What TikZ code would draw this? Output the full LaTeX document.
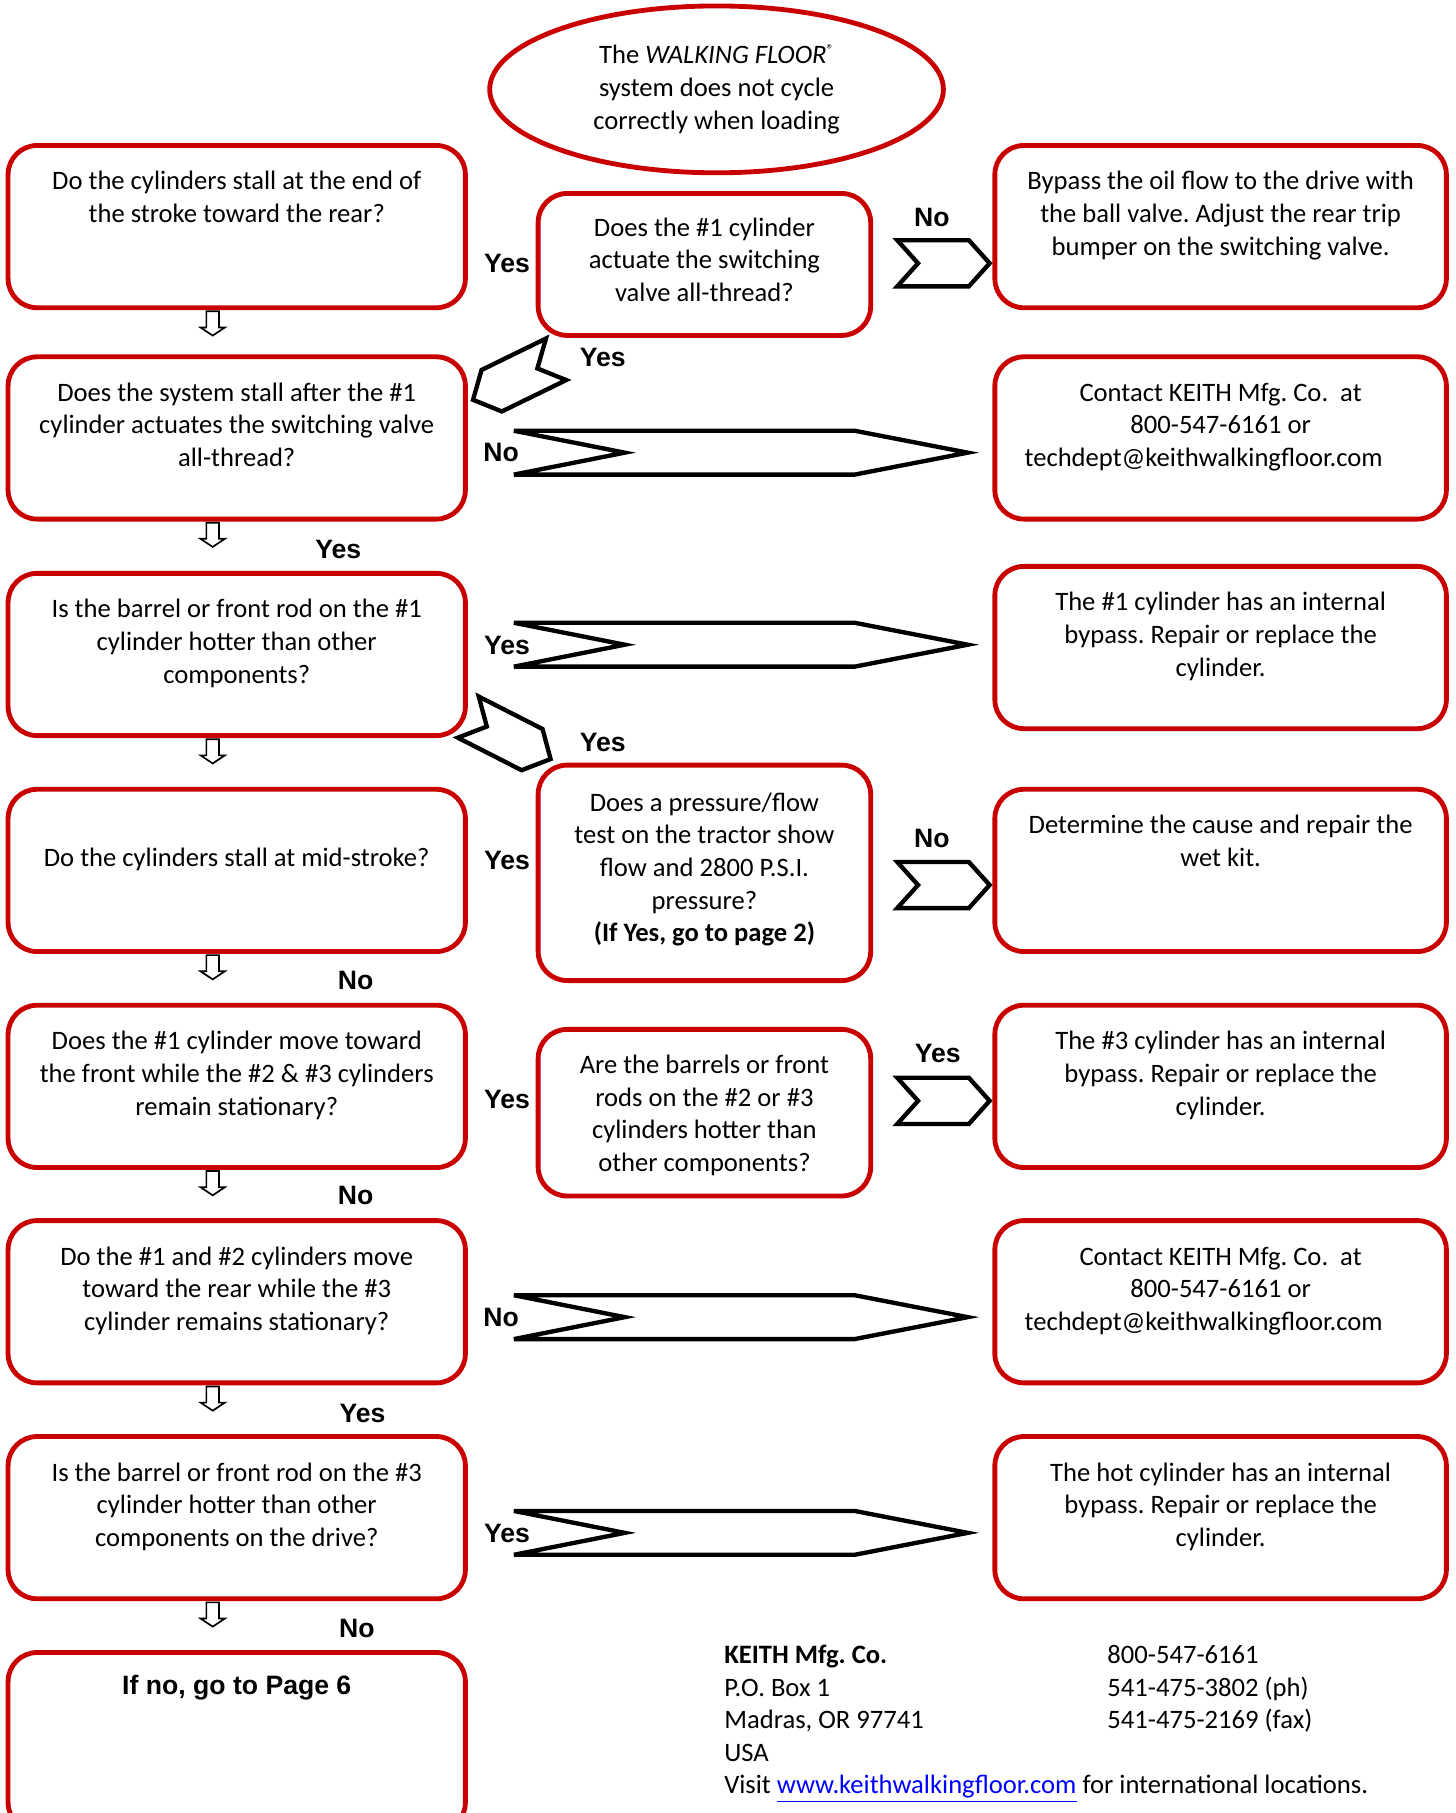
\documentclass[tikz,border=0pt]{standalone}
\usepackage{fontspec}
\setmainfont{Carlito}
\newfontfamily\labelfont{Liberation Sans}
\usetikzlibrary{shapes.geometric}
\frenchspacing

\definecolor{boxred}{RGB}{200,0,0}
\definecolor{linkblue}{RGB}{0,0,255}

\tikzset{
    flowbox/.style = {draw = boxred, line width = 2pt, rounded corners = 12pt, minimum height = 67.1pt},
    qbox/.style = {flowbox, minimum width = 189.1pt},
    abox/.style = {flowbox, minimum width = 186.7pt},
    mbox/.style = {flowbox, minimum width = 137.5pt},
    boxtext/.style = {align = flush center, text width = 190pt, inner sep = 0pt, anchor = base},
    yn/.style = {font = \labelfont\bfseries\fontsize{11}{13.5}\selectfont, inner sep = 0pt},
    chevline/.style = {draw = black, line width = 1.8pt},
    % block arrows, origin at the middle of the back edge
    bigchev/.pic = {%
        \draw[chevline] (0, 19) -- (295, 19) -- (393, 0) -- (295, -19) -- (0, -19) -- (96, 0) -- cycle;
    },
    smallchev/.pic = {%
        \draw[chevline] (0, 20) -- (62, 20) -- (80, 0) -- (62, -20) -- (0, -20) -- (18, 0) -- cycle;
    },
    downarr/.pic = {%
        \draw[line width = 0.7pt] (-5.5, 0) -- (5.5, 0) -- (5.5, -14) -- (10.5, -14)
            -- (0, -21) -- (-10.5, -14) -- (-5.5, -14) -- cycle;
    },
}

\begin{document}
\begin{tikzpicture}[x = 0.4775pt, y = 0.4775pt, font = \fontsize{11}{13.5}\selectfont]

        \useasboundingbox (0, 0) rectangle (1260, -1570);

        % start
        \node[ellipse, draw = boxred, line width = 2pt, minimum width = 187.6pt,
            minimum height = 69pt, align = center, inner sep = 0pt] (start) at (620.5, -77.4)
            {The \textit{WALKING FLOOR}{\fontsize{6}{6}\selectfont\raisebox{1.3ex}{®}}\\
             system does not cycle\\correctly when loading};

        % questions on the left
        \node[qbox] (q1) at (205, -196.25) {};
        \node[qbox] (q2) at (205, -379.25) {};
        \node[qbox] (q3) at (205, -566.75) {};
        \node[qbox] (q4) at (205, -753.75) {};
        \node[qbox] (q5) at (205, -940.75) {};
        \node[qbox] (q6) at (205, -1127.25) {};
        \node[qbox] (q7) at (205, -1314.25) {};
        \node[qbox, minimum height = 74pt] (q8) at (205, -1508.5) {};

        \node[boxtext] (q1t) at ([yshift = -19.4pt]q1.north)
            {Do the cylinders stall at the end of\\the stroke toward the rear?};
        \node[boxtext] (q2t) at ([yshift = -19.4pt]q2.north)
            {Does the system stall after the \#1\\cylinder actuates the switching valve\\all-thread?};
        \node[boxtext] (q3t) at ([yshift = -19.4pt]q3.north)
            {Is the barrel or front rod on the \#1\\cylinder hotter than other\\components?};
        \node[boxtext] (q4t) at ([yshift = -19.4pt]q4.north)
            {\mbox{}\\Do the cylinders stall at mid-stroke?};
        \node[boxtext] (q5t) at ([yshift = -19.4pt]q5.north)
            {Does the \#1 cylinder move toward\\the front while the \#2 \& \#3 cylinders\\remain stationary?};
        \node[boxtext] (q6t) at ([yshift = -19.4pt]q6.north)
            {Do the \#1 and \#2 cylinders move\\toward the rear while the \#3\\cylinder remains stationary?};
        \node[boxtext] (q7t) at ([yshift = -19.4pt]q7.north)
            {Is the barrel or front rod on the \#3\\cylinder hotter than other\\components on the drive?};
        \node[boxtext, font = \labelfont\bfseries\fontsize{11}{13.5}\selectfont] (q8t)
            at ([yshift = -18.2pt]q8.north) {If no, go to Page 6};

        % questions in the middle
        \node[mbox, minimum height = 58.7pt] (m1) at (610, -229) {};
        \node[mbox, minimum height = 89.1pt] (m2) at (610, -755.85) {};
        \node[mbox, minimum height = 68.9pt] (m3) at (610, -963.55) {};

        \node[boxtext, text width = 135pt] (m1t) at ([yshift = -18.6pt]m1.north)
            {Does the \#1 cylinder\\actuate the switching\\valve all-thread?};
        \node[boxtext, text width = 135pt] (m2t) at ([yshift = -20.1pt]m2.north)
            {Does a pressure/flow\\test on the tractor show\\flow and 2800 P.S.I.\\pressure?\\
             \textbf{(If Yes, go to page 2)}};
        \node[boxtext, text width = 135pt] (m3t) at ([yshift = -19.2pt]m3.north)
            {Are the barrels or front\\rods on the \#2 or \#3\\cylinders hotter than\\other components?};

        % answers on the right
        \node[abox] (a1) at (1057, -196.25) {};
        \node[abox] (a2) at (1057, -379.25) {};
        \node[abox] (a3) at (1057, -560.75) {};
        \node[abox] (a4) at (1057, -753.75) {};
        \node[abox] (a5) at (1057, -940.75) {};
        \node[abox] (a6) at (1057, -1127.25) {};
        \node[abox] (a7) at (1057, -1314.25) {};

        \node[boxtext] (a1t) at ([yshift = -19.4pt]a1.north)
            {Bypass the oil flow to the drive with\\the ball valve. Adjust the rear trip\\bumper on the switching valve.};
        \node[boxtext] (a2t) at ([yshift = -19.4pt]a2.north)
            {Contact KEITH Mfg. Co.\ \ at\\800-547-6161 or\\\mbox{techdept@keithwalkingfloor.com\hspace{14pt}}};
        \node[boxtext] (a3t) at ([yshift = -19.4pt]a3.north)
            {The \#1 cylinder has an internal\\bypass. Repair or replace the\\cylinder.};
        \node[boxtext] (a4t) at ([yshift = -19.4pt]a4.north)
            {Determine the cause and repair the\\wet kit.};
        \node[boxtext] (a5t) at ([yshift = -19.4pt]a5.north)
            {The \#3 cylinder has an internal\\bypass. Repair or replace the\\cylinder.};
        \node[boxtext] (a6t) at ([yshift = -19.4pt]a6.north)
            {Contact KEITH Mfg. Co.\ \ at\\800-547-6161 or\\\mbox{techdept@keithwalkingfloor.com\hspace{14pt}}};
        \node[boxtext] (a7t) at ([yshift = -19.4pt]a7.north)
            {The hot cylinder has an internal\\bypass. Repair or replace the\\cylinder.};

        % down arrows under the left column
        \foreach \i in {1, ..., 7} {
            \pic at ([shift = {(-20.8, -1)}]q\i.south) {downarr};
        }

        % long block arrows to the right column
        \pic at ([shift = {(39.9, -12.75)}]q2.east) {bigchev};
        \pic at ([shift = {(39.9, 8.45)}]q3.east) {bigchev};
        \pic at ([shift = {(39.9, -13.35)}]q6.east) {bigchev};
        \pic at ([shift = {(39.9, -13.15)}]q7.east) {bigchev};

        % short block arrows
        \pic at ([shift = {(20.9, 1)}]m1.east) {smallchev};
        \pic at ([shift = {(20.9, -10.55)}]m2.east) {smallchev};
        \pic at ([shift = {(20.9, 10.25)}]m3.east) {smallchev};
        \pic[rotate = 206] at ([shift = {(17.6, -18.6)}]m1.south west) {smallchev};
        \pic[rotate = -27] at ([shift = {(0.4, 18.1)}]q3.south east) {smallchev};

        % yes / no labels
        \node[yn] (yes1) at (439, -228) {Yes};
        \node[yn] (no1) at (807, -188) {No};
        \node[yn] (yes2) at (522, -310) {Yes};
        \node[yn] (no2) at (434, -392) {No};
        \node[yn] (yes3) at (293, -476) {Yes};
        \node[yn] (yes4) at (439, -559) {Yes};
        \node[yn] (yes5) at (522, -643) {Yes};
        \node[yn] (yes6) at (439, -745) {Yes};
        \node[yn] (no3) at (807, -726) {No};
        \node[yn] (no4) at (308, -849) {No};
        \node[yn] (yes7) at (812, -912) {Yes};
        \node[yn] (yes8) at (439, -952) {Yes};
        \node[yn] (no5) at (308, -1035) {No};
        \node[yn] (no6) at (434, -1141) {No};
        \node[yn] (yes9) at (314, -1224) {Yes};
        \node[yn] (yes10) at (439, -1328) {Yes};
        \node[yn] (no7) at (309, -1410) {No};

        % address block
        \node[anchor = base west, align = flush left, text width = 300pt, inner sep = 0pt] (addr)
            at (626.8, -1440.4)
            {\textbf{KEITH Mfg. Co.}\\P.O. Box 1\\Madras, OR 97741\\USA\\
             Visit \textcolor{linkblue}{\underline{www.keithwalkingfloor.com}} for international locations.};
        \node[anchor = base west, align = flush left, text width = 100pt, inner sep = 0pt] (phone)
            at (958.6, -1440.4)
            {800-547-6161\\541-475-3802 (ph)\\541-475-2169 (fax)};

    \end{tikzpicture}
\end{document}
